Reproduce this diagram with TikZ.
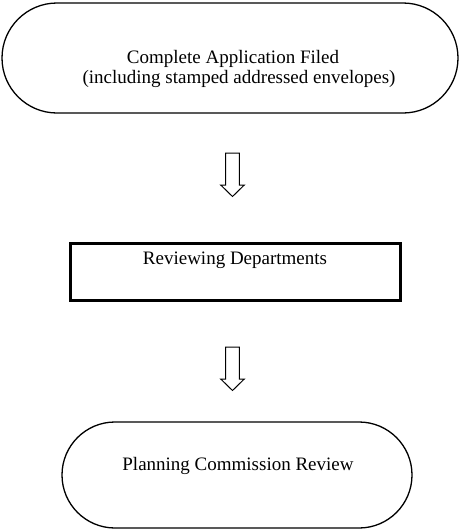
\documentclass[tikz,border=0pt]{standalone}
\usepackage{fontspec}
\setmainfont{Liberation Serif}
\begin{document}
\begin{tikzpicture}[x=1pt,y=-1pt,
  terminal/.style={draw=black, line width=1.3pt},
  stagebox/.style={draw=black, line width=3pt, rectangle},
  label/.style={font=\fontsize{19}{20}\selectfont, inner sep=0pt, align=center},
  blockarrow/.style={draw=black, line width=1pt, fill=white, line join=miter}]
\useasboundingbox (0,0) rectangle (460,531);

% start terminal
\node[terminal, rounded corners=55pt, minimum width=456pt, minimum height=110pt] (filed) at (230,58) {};
\node[label, anchor=base] (filedtxt) at (233,83) {Complete Application Filed\\\hspace*{12pt}(including stamped addressed envelopes)};

% review stage
\node[stagebox, minimum width=330pt, minimum height=57pt] (review) at (235,271.5) {};
\node[label, anchor=base] (reviewtxt) at (235,264) {Reviewing Departments};

% planning terminal
\node[terminal, rounded corners=53pt, minimum width=350pt, minimum height=106pt] (planning) at (237,475) {};
\node[label, anchor=base] (planningtxt) at (238,470) {Planning Commission Review};

% hollow down arrows between the stages
\coordinate (a1) at (232.5,153);
\coordinate (a2) at (232.5,347);
\foreach \c in {a1,a2}{
  \draw[blockarrow] (\c) ++(-6.8,0) -- ++(0,32) -- ++(-5,0) -- ++(11.8,11.5)
        -- ++(11.8,-11.5) -- ++(-5,0) -- ++(0,-32) -- cycle;
}
\end{tikzpicture}
\end{document}
